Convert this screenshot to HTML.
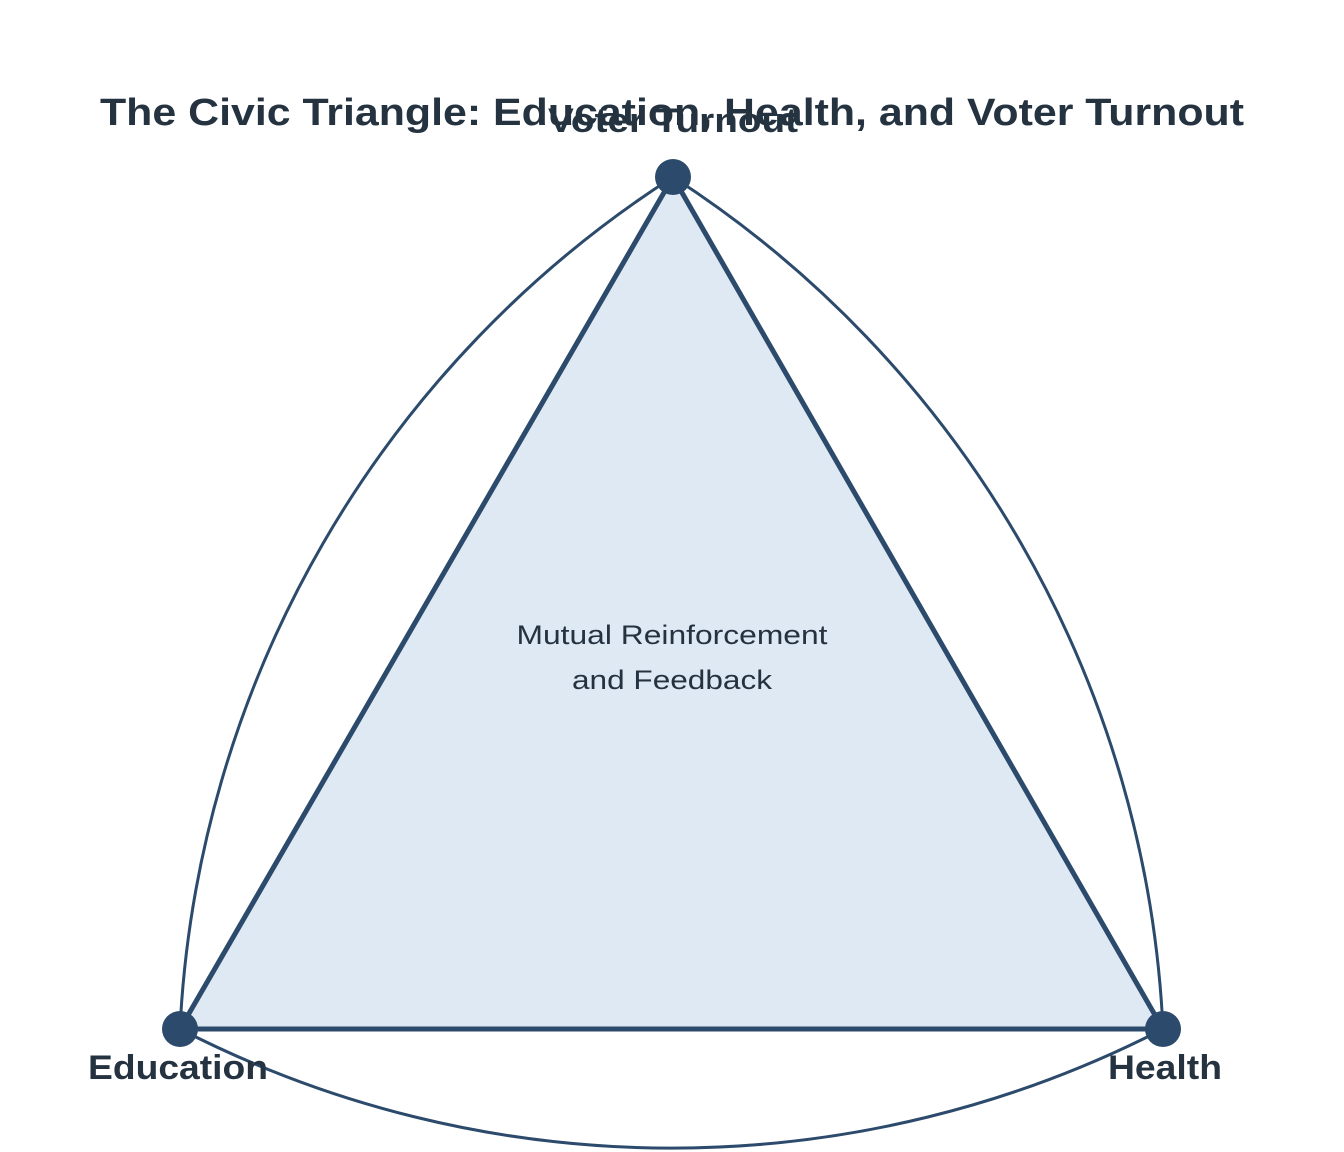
<!DOCTYPE html>
<html><head><meta charset="utf-8"><style>
html,body{margin:0;padding:0;background:#fff;}
svg{display:block;font-family:"Liberation Sans",sans-serif;}
</style></head><body>
<svg width="1344" height="1152" viewBox="0 0 1344 1152">
<g id="arcs"></g>
<polygon id="tri" fill="#dfe9f3" stroke="#2c4a6b" stroke-width="5" stroke-linejoin="round"/>
<g id="nodes"></g>
<text x="672" y="125" text-anchor="middle" font-size="38" font-weight="bold" fill="#253341" textLength="1144" lengthAdjust="spacingAndGlyphs">The Civic Triangle: Education, Health, and Voter Turnout</text>
<g id="labels"></g>
<text x="672" y="644" text-anchor="middle" font-size="27" fill="#253341" textLength="311" lengthAdjust="spacingAndGlyphs">Mutual Reinforcement</text>
<text x="672" y="689" text-anchor="middle" font-size="27" fill="#253341" textLength="200" lengthAdjust="spacingAndGlyphs">and Feedback</text>
</svg>
<script>
const nodeNames = ["Voter Turnout", "Education", "Health"];
const nodeX = [673, 180, 1163];
const nodeY = [177, 1029, 1029];
const labelDx = [0, -2, 2];
const labelDy = [-45, 50, 50];
const labelLen = [250, 180, 114];
const NS = "http://www.w3.org/2000/svg";
const tri = document.getElementById('tri');
tri.setAttribute('points', nodeX.map((x,i)=>x+','+nodeY[i]).join(' '));
const arcs = document.getElementById('arcs');
const R = 1074;
[[0,1],[1,2],[2,0]].forEach(([a,b],k)=>{
  const p = document.createElementNS(NS,'path');
  p.setAttribute('d',`M${nodeX[a]},${nodeY[a]} A${R},${R} 0 0 0 ${nodeX[b]},${nodeY[b]}`);
  p.setAttribute('fill','none');p.setAttribute('stroke','#2c4a6b');p.setAttribute('stroke-width','3');
  
  
  arcs.appendChild(p);
});
const nodes = document.getElementById('nodes');
const labels = document.getElementById('labels');
nodeNames.forEach((n,i)=>{
  const c = document.createElementNS(NS,'circle');
  c.setAttribute('cx',nodeX[i]);c.setAttribute('cy',nodeY[i]);c.setAttribute('r',18);c.setAttribute('fill','#2c4a6b');
  
  
  nodes.appendChild(c);
  const t = document.createElementNS(NS,'text');
  t.setAttribute('x',nodeX[i]+labelDx[i]);t.setAttribute('y',nodeY[i]+labelDy[i]);
  t.setAttribute('text-anchor','middle');t.setAttribute('font-size','34');t.setAttribute('font-weight','bold');t.setAttribute('fill','#253341');
  t.setAttribute('textLength',labelLen[i]);t.setAttribute('lengthAdjust','spacingAndGlyphs');
  t.textContent = n;
  
  
  labels.appendChild(t);
});
</script>
</body></html>
